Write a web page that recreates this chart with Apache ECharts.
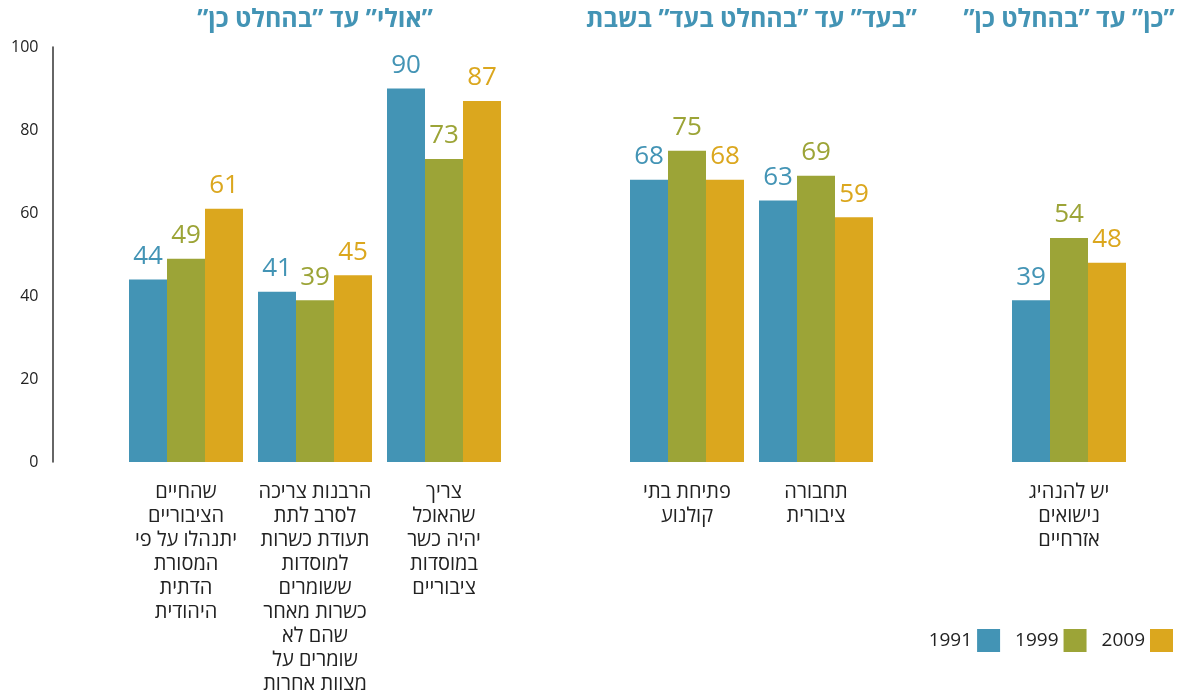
<!DOCTYPE html>
<html>
<head>
<meta charset="utf-8">
<script src="https://cdn.jsdelivr.net/npm/echarts@6/dist/echarts.min.js"></script>
<style>
html,body{margin:0;padding:0;background:#fff;overflow:hidden;}
#chart{width:1187px;height:693px;}
</style>
</head>
<body>
<div id="chart" dir="rtl"></div>
<script>
// ---- data ----
const groupTitles = ['”אולי” עד ”בהחלט כן”', '”בעד” עד ”בהחלט בעד” בשבת', '”כן” עד ”בהחלט כן”'];
const categories = [
  'שהחיים\nהציבוריים\nיתנהלו על פי\nהמסורת\nהדתית\nהיהודית',
  'הרבנות צריכה\nלסרב לתת\nתעודת כשרות\nלמוסדות\nששומרים\nכשרות מאחר\nשהם לא\nשומרים על\nמצוות אחרות',
  'צריך\nשהאוכל\nיהיה כשר\nבמוסדות\nציבוריים',
  'פתיחת בתי\nקולנוע',
  'תחבורה\nציבורית',
  'יש להנהיג\nנישואים\nאזרחיים'
];
const groupOf = [0, 0, 0, 1, 1, 2];
const years = ['1991', '1999', '2009'];
const values1991 = [44, 41, 90, 68, 63, 39];
const values1999 = [49, 39, 73, 75, 69, 54];
const values2009 = [61, 45, 87, 68, 59, 48];
const yTicks = { min: 0, max: 100, interval: 20 };

// ---- layout / style ----
const colors = ['#4394b5', '#9ca437', '#dba71e'];
const FONT = "'Open Sans', 'DejaVu Sans', 'Liberation Sans', sans-serif";
const catWidth = 129;
const groupLefts = [121.5, 622.5, 1004.5];
const axisX = 52.5;
const gridTop = 47, gridBottom = 231;

const valuesByYear = [values1991, values1999, values2009];
const nGroups = groupTitles.length;

const grids = [], xAxes = [], yAxes = [], series = [], graphics = [];
for (let g = 0; g < nGroups; g++) {
  const idx = groupOf.map((v, i) => v === g ? i : -1).filter(i => i >= 0);
  const w = catWidth * idx.length;
  grids.push({ left: groupLefts[g], width: w, top: gridTop, bottom: gridBottom, containLabel: false, outerBoundsMode: 'none' });
  xAxes.push({
    type: 'category', gridIndex: g, data: idx.map(i => categories[i]),
    axisLine: { show: false }, axisTick: { show: false },
    axisLabel: { interval: 0, margin: 18, fontSize: 20, lineHeight: 24, color: '#222', fontFamily: FONT, align: 'center', verticalAlign: 'top' }
  });
  yAxes.push({
    type: 'value', gridIndex: g, min: yTicks.min, max: yTicks.max, interval: yTicks.interval,
    show: g === 0, offset: g === 0 ? groupLefts[0] - axisX : 0,
    axisLine: { show: true, lineStyle: { color: '#333', width: 1.5 } },
    axisTick: { show: false }, splitLine: { show: false },
    axisLabel: { fontSize: 16, color: '#222', fontFamily: FONT, margin: 14 }
  });
  years.forEach((y, k) => {
    series.push({
      name: y, type: 'bar', xAxisIndex: g, yAxisIndex: g,
      data: idx.map(i => valuesByYear[k][i]),
      barWidth: 38, barGap: '0%',
      itemStyle: { color: colors[k] },
      label: { show: true, position: 'top', distance: 10, fontSize: 26, color: colors[k], fontFamily: FONT },
      emphasis: { disabled: true }
    });
  });
  graphics.push({
    type: 'text', x: groupLefts[g] + w / 2, y: 20,
    style: { text: groupTitles[g], align: 'center', verticalAlign: 'middle', fontSize: 25, fontWeight: 'bold', fill: colors[0], fontFamily: FONT }
  });
}

const chart = echarts.init(document.getElementById('chart'));
chart.setOption({
  animation: false,
  grid: grids, xAxis: xAxes, yAxis: yAxes, series: series,
  graphic: graphics,
  legend: {
    data: years, right: 9, top: 624, align: 'right', icon: 'rect',
    itemWidth: 23, itemHeight: 23, itemGap: 15,
    textStyle: { fontSize: 19, color: '#222', fontFamily: FONT },
    selectedMode: false
  }
});
</script>
</body>
</html>
